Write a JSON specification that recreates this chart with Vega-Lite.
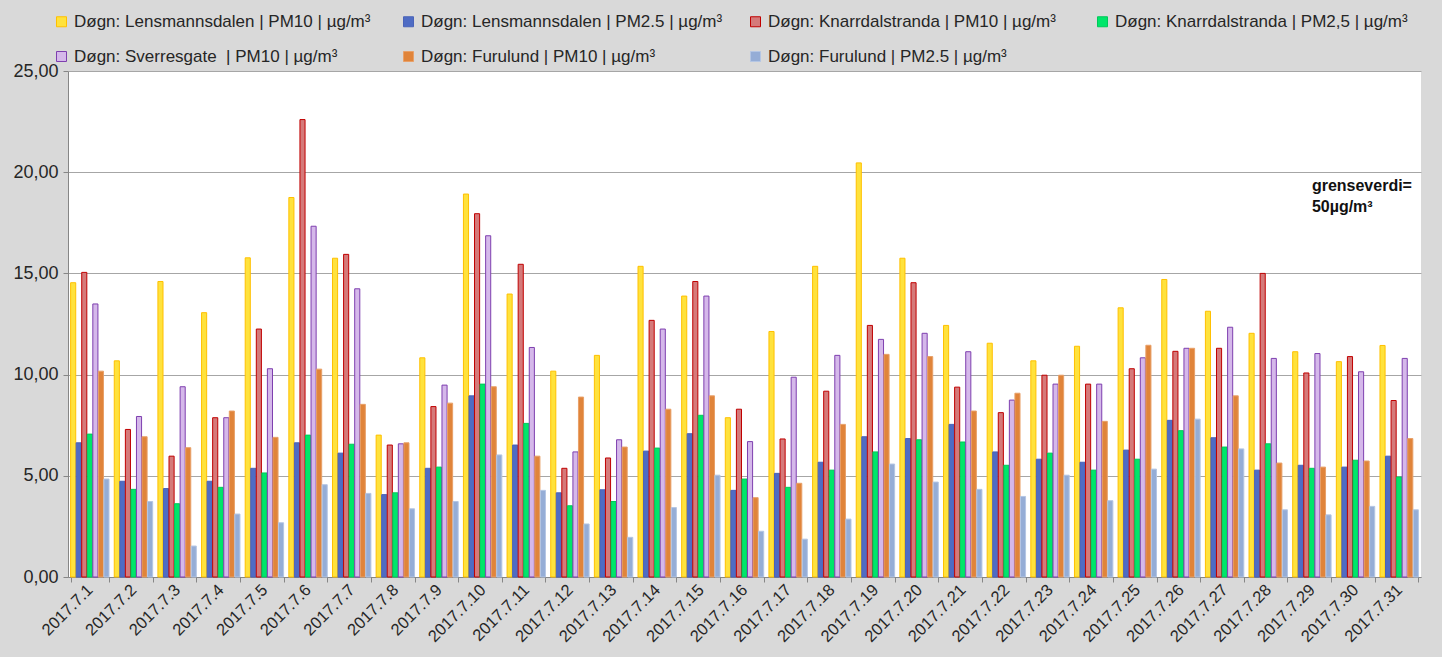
{
  "$schema": "https://vega.github.io/schema/vega-lite/v6.json",
  "width": 1353,
  "height": 506,
  "autosize": {"type": "none"},
  "padding": {"left": 68, "top": 71, "right": 21, "bottom": 80},
  "background": "#D9D9D9",
  "config": {
    "view": {"fill": "white", "stroke": null},
    "font": "Liberation Sans"
  },
  "datasets": {
    "wide": [
      {"d":"2017.7.1","L10":14.54,"L25":6.63,"K10":15.05,"K25":7.06,"S10":13.49,"F10":10.17,"F25":4.84},
      {"d":"2017.7.2","L10":10.68,"L25":4.73,"K10":7.29,"K25":4.33,"S10":7.93,"F10":6.93,"F25":3.73},
      {"d":"2017.7.3","L10":14.6,"L25":4.37,"K10":5.97,"K25":3.62,"S10":9.4,"F10":6.39,"F25":1.53},
      {"d":"2017.7.4","L10":13.06,"L25":4.73,"K10":7.87,"K25":4.43,"S10":7.87,"F10":8.2,"F25":3.11},
      {"d":"2017.7.5","L10":15.77,"L25":5.37,"K10":12.25,"K25":5.14,"S10":10.29,"F10":6.9,"F25":2.68},
      {"d":"2017.7.6","L10":18.75,"L25":6.63,"K10":22.6,"K25":7.01,"S10":17.33,"F10":10.27,"F25":4.56},
      {"d":"2017.7.7","L10":15.75,"L25":6.12,"K10":15.94,"K25":6.56,"S10":14.24,"F10":8.53,"F25":4.13},
      {"d":"2017.7.8","L10":7.01,"L25":4.07,"K10":6.52,"K25":4.16,"S10":6.58,"F10":6.63,"F25":3.37},
      {"d":"2017.7.9","L10":10.83,"L25":5.37,"K10":8.42,"K25":5.43,"S10":9.48,"F10":8.59,"F25":3.73},
      {"d":"2017.7.10","L10":18.92,"L25":8.95,"K10":17.95,"K25":9.53,"S10":16.86,"F10":9.4,"F25":6.03},
      {"d":"2017.7.11","L10":13.98,"L25":6.52,"K10":15.45,"K25":7.59,"S10":11.34,"F10":5.97,"F25":4.28},
      {"d":"2017.7.12","L10":10.17,"L25":4.16,"K10":5.37,"K25":3.52,"S10":6.18,"F10":8.89,"F25":2.62},
      {"d":"2017.7.13","L10":10.95,"L25":4.31,"K10":5.88,"K25":3.73,"S10":6.78,"F10":6.42,"F25":1.96},
      {"d":"2017.7.14","L10":15.35,"L25":6.22,"K10":12.68,"K25":6.37,"S10":12.25,"F10":8.29,"F25":3.43},
      {"d":"2017.7.15","L10":13.88,"L25":7.08,"K10":14.6,"K25":7.99,"S10":13.88,"F10":8.95,"F25":5.03},
      {"d":"2017.7.16","L10":7.87,"L25":4.28,"K10":8.29,"K25":4.84,"S10":6.69,"F10":3.92,"F25":2.26},
      {"d":"2017.7.17","L10":12.13,"L25":5.12,"K10":6.82,"K25":4.43,"S10":9.87,"F10":4.63,"F25":1.87},
      {"d":"2017.7.18","L10":15.35,"L25":5.67,"K10":9.18,"K25":5.28,"S10":10.95,"F10":7.54,"F25":2.86},
      {"d":"2017.7.19","L10":20.46,"L25":6.93,"K10":12.43,"K25":6.18,"S10":11.74,"F10":11.0,"F25":5.58},
      {"d":"2017.7.20","L10":15.75,"L25":6.84,"K10":14.54,"K25":6.78,"S10":12.04,"F10":10.89,"F25":4.69},
      {"d":"2017.7.21","L10":12.43,"L25":7.54,"K10":9.38,"K25":6.67,"S10":11.13,"F10":8.2,"F25":4.33},
      {"d":"2017.7.22","L10":11.55,"L25":6.18,"K10":8.12,"K25":5.52,"S10":8.74,"F10":9.08,"F25":3.98},
      {"d":"2017.7.23","L10":10.68,"L25":5.82,"K10":9.97,"K25":6.12,"S10":9.53,"F10":9.97,"F25":5.03},
      {"d":"2017.7.24","L10":11.4,"L25":5.67,"K10":9.53,"K25":5.28,"S10":9.53,"F10":7.69,"F25":3.77},
      {"d":"2017.7.25","L10":13.3,"L25":6.27,"K10":10.29,"K25":5.82,"S10":10.83,"F10":11.45,"F25":5.33},
      {"d":"2017.7.26","L10":14.7,"L25":7.74,"K10":11.15,"K25":7.23,"S10":11.3,"F10":11.3,"F25":7.8},
      {"d":"2017.7.27","L10":13.13,"L25":6.88,"K10":11.3,"K25":6.42,"S10":12.34,"F10":8.95,"F25":6.33},
      {"d":"2017.7.28","L10":12.04,"L25":5.28,"K10":15.0,"K25":6.58,"S10":10.8,"F10":5.63,"F25":3.32},
      {"d":"2017.7.29","L10":11.13,"L25":5.52,"K10":10.08,"K25":5.37,"S10":11.04,"F10":5.43,"F25":3.07},
      {"d":"2017.7.30","L10":10.64,"L25":5.43,"K10":10.89,"K25":5.77,"S10":10.14,"F10":5.73,"F25":3.49},
      {"d":"2017.7.31","L10":11.44,"L25":5.97,"K10":8.72,"K25":4.94,"S10":10.8,"F10":6.84,"F25":3.32}
    ],
    "names": [
      {"code":"L10","s":"Døgn: Lensmannsdalen | PM10 | µg/m³"},
      {"code":"L25","s":"Døgn: Lensmannsdalen | PM2.5 | µg/m³"},
      {"code":"K10","s":"Døgn: Knarrdalstranda | PM10 | µg/m³"},
      {"code":"K25","s":"Døgn: Knarrdalstranda | PM2,5 | µg/m³"},
      {"code":"S10","s":"Døgn: Sverresgate\u00a0 | PM10 | µg/m³"},
      {"code":"F10","s":"Døgn: Furulund | PM10 | µg/m³"},
      {"code":"F25","s":"Døgn: Furulund | PM2.5 | µg/m³"}
    ],
    "note": [
      {"d":"2017.7.29","label":"grenseverdi="}
    ]
  },
  "layer": [
    {
      "data": {"name": "wide"},
      "transform": [
        {"fold": ["L10","L25","K10","K25","S10","F10","F25"], "as": ["code","v"]},
        {"lookup": "code", "from": {"data": {"name": "names"}, "key": "code", "fields": ["s"]}}
      ],
      "mark": {"type": "bar", "strokeWidth": 1},
      "encoding": {
        "x": {
          "field": "d", "type": "nominal", "sort": null, "title": null,
          "scale": {"paddingInner": 0.12, "paddingOuter": 0.06},
          "axis": {
            "tickBand": "extent", "labelAngle": -45, "labelAlign": "right", "labelBaseline": "middle",
            "labelFontSize": 16.5, "labelColor": "#262626", "labelPadding": 5,
            "domainColor": "#868686", "tickColor": "#868686", "tickSize": 5, "grid": false
          }
        },
        "xOffset": {
          "field": "s", "type": "nominal",
          "scale": {"domain": ["Døgn: Lensmannsdalen | PM10 | µg/m³","Døgn: Lensmannsdalen | PM2.5 | µg/m³","Døgn: Knarrdalstranda | PM10 | µg/m³","Døgn: Knarrdalstranda | PM2,5 | µg/m³","Døgn: Sverresgate\u00a0 | PM10 | µg/m³","Døgn: Furulund | PM10 | µg/m³","Døgn: Furulund | PM2.5 | µg/m³"], "paddingInner": 0.08}
        },
        "y": {
          "field": "v", "type": "quantitative", "title": null,
          "scale": {"domain": [0, 25], "nice": false},
          "axis": {
            "values": [0, 5, 10, 15, 20, 25],
            "labelExpr": "replace(format(datum.value, '.2f'), '.', ',')",
            "labelFontSize": 18, "labelColor": "#262626", "labelPadding": 5,
            "domainColor": "#868686", "tickColor": "#868686", "tickSize": 5,
            "gridColor": "#A6A6A6", "gridWidth": 1
          }
        },
        "color": {
          "field": "s", "type": "nominal", "title": null,
          "scale": {
            "domain": ["Døgn: Lensmannsdalen | PM10 | µg/m³","Døgn: Lensmannsdalen | PM2.5 | µg/m³","Døgn: Knarrdalstranda | PM10 | µg/m³","Døgn: Knarrdalstranda | PM2,5 | µg/m³","Døgn: Sverresgate\u00a0 | PM10 | µg/m³","Døgn: Furulund | PM10 | µg/m³","Døgn: Furulund | PM2.5 | µg/m³"],
            "range": ["#FFE23C","#4F6CC4","#D57A7A","#00E66A","#D5B8EA","#E0843A","#95ADD6"]
          },
          "legend": {
            "orient": "none", "legendX": -15, "legendY": -58, "direction": "horizontal",
            "columns": 4, "gridAlign": "all", "columnPadding": 24, "rowPadding": 17,
            "symbolType": "square", "symbolSize": 100, "symbolStrokeWidth": 1, "symbolOffset": 0,
            "labelFontSize": 17, "labelColor": "#262626", "labelOffset": 4, "labelLimit": 400
          }
        },
        "stroke": {
          "field": "s", "type": "nominal", "title": null,
          "scale": {
            "domain": ["Døgn: Lensmannsdalen | PM10 | µg/m³","Døgn: Lensmannsdalen | PM2.5 | µg/m³","Døgn: Knarrdalstranda | PM10 | µg/m³","Døgn: Knarrdalstranda | PM2,5 | µg/m³","Døgn: Sverresgate\u00a0 | PM10 | µg/m³","Døgn: Furulund | PM10 | µg/m³","Døgn: Furulund | PM2.5 | µg/m³"],
            "range": ["#FFC000","#4A63B8","#C00000","#00C85A","#7E3FAF","#E8A068","#B4C6E4"]
          }
        }
      }
    },
    {
      "data": {"name": "note"},
      "mark": {"type": "text", "align": "left", "baseline": "top", "fontWeight": "bold", "fontSize": 16, "font": "Liberation Sans", "lineHeight": 21, "color": "#111111"},
      "encoding": {
        "x": {"field": "d", "type": "nominal", "sort": null},
        "y": {"datum": 19.7},
        "text": {"value": ["grenseverdi=", "50µg/m³"]}
      }
    }
  ]
}
